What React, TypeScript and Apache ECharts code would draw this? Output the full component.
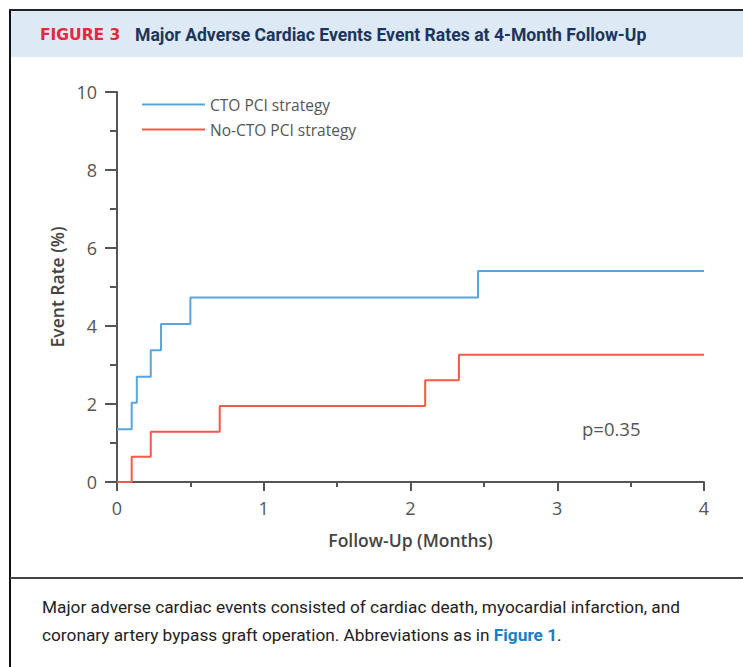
import React, { useEffect, useRef } from "react";
import * as echarts from "echarts";

const ctoTimes = [0, 0.1, 0.135, 0.23, 0.3, 0.5, 2.46, 4];
const ctoRates = [1.35, 2.03, 2.7, 3.38, 4.05, 4.73, 5.41, 5.41];
const noCtoTimes = [0, 0.1, 0.23, 0.7, 2.1, 2.33, 4];
const noCtoRates = [0, 0.65, 1.29, 1.95, 2.61, 3.26, 3.26];
const seriesNames = ["CTO PCI strategy", "No-CTO PCI strategy"];
const pValueText = "p=0.35";
const titleLabel = "FIGURE 3";
const titleText = "Major Adverse Cardiac Events Event Rates at 4-Month Follow-Up";
const captionLine1 = "Major adverse cardiac events consisted of cardiac death, myocardial infarction, and";
const captionLine2 = "coronary artery bypass graft operation. Abbreviations as in ";
const captionLink = "Figure 1";

const BLUE = "#5aa5dc";
const RED = "#f05c48";
const AXIS = "#555555";
const CHART_FONT = "'Open Sans', 'Noto Sans', sans-serif";
const TITLE_FONT = "'Roboto', sans-serif";

export default function App() {
  const ref = useRef<HTMLDivElement>(null);
  useEffect(() => {
    if (!ref.current) return;
    const chart = echarts.init(ref.current, undefined, { renderer: "svg" });
    const pair = (xs: number[], ys: number[]) => xs.map((x, i) => [x, ys[i]]);
    chart.setOption({
      animation: false,
      backgroundColor: "#ffffff",
      textStyle: { fontFamily: CHART_FONT },
      grid: { left: 117, right: 39, top: 92, bottom: 185, containLabel: false },
      legend: {
        orient: "vertical",
        left: 137,
        top: 91,
        itemWidth: 63,
        itemHeight: 2,
        itemGap: 8,
        icon: "rect",
        data: seriesNames,
        textStyle: { fontFamily: CHART_FONT, fontSize: 15.5, color: "#555", lineHeight: 17 },
      },
      xAxis: {
        type: "value",
        min: 0,
        max: 4,
        interval: 1,
        name: "Follow-Up (Months)",
        nameLocation: "middle",
        nameGap: 49,
        nameTextStyle: { fontFamily: CHART_FONT, fontSize: 17.5, fontWeight: 600, color: "#444" },
        axisLine: { lineStyle: { color: AXIS, width: 2 } },
        axisTick: { length: 9, lineStyle: { color: AXIS, width: 2 } },
        minorTick: { show: true, splitNumber: 2, length: 5, lineStyle: { color: AXIS, width: 2 } },
        splitLine: { show: false },
        axisLabel: { margin: 17, fontSize: 18, color: "#555", fontFamily: CHART_FONT },
      },
      yAxis: {
        type: "value",
        min: 0,
        max: 10,
        interval: 2,
        name: "Event Rate (%)",
        nameLocation: "middle",
        nameGap: 48,
        nameTextStyle: { fontFamily: CHART_FONT, fontSize: 17.5, fontWeight: 600, color: "#444" },
        axisLine: { show: true, lineStyle: { color: AXIS, width: 2 } },
        axisTick: { show: true, length: 12, lineStyle: { color: AXIS, width: 2 } },
        minorTick: { show: true, splitNumber: 2, length: 7, lineStyle: { color: AXIS, width: 2 } },
        splitLine: { show: false },
        axisLabel: { margin: 20, fontSize: 18, color: "#555", fontFamily: CHART_FONT },
      },
      series: [
        {
          name: seriesNames[0],
          type: "line",
          step: "end",
          data: pair(ctoTimes, ctoRates),
          showSymbol: false,
          symbol: "none",
          color: BLUE,
          lineStyle: { color: BLUE, width: 2 },
        },
        {
          name: seriesNames[1],
          type: "line",
          step: "end",
          data: pair(noCtoTimes, noCtoRates),
          showSymbol: false,
          symbol: "none",
          color: RED,
          lineStyle: { color: RED, width: 2 },
        },
      ],
      graphic: [
        { type: "rect", shape: { x: 10, y: 11, width: 733, height: 46 }, style: { fill: "#dde9f5" }, silent: true },
        { type: "line", shape: { x1: 10, y1: 9, x2: 10, y2: 667 }, style: { stroke: "#111", lineWidth: 2 } },
        { type: "line", shape: { x1: 9, y1: 10, x2: 743, y2: 10 }, style: { stroke: "#222", lineWidth: 2 } },
        { type: "line", shape: { x1: 10, y1: 578, x2: 743, y2: 578 }, style: { stroke: "#444", lineWidth: 2 } },
        {
          type: "text",
          x: 40,
          y: 35,
          style: { text: titleLabel, fill: "#e2283a", font: `bold 15.5px 'DejaVu Sans', sans-serif`, verticalAlign: "middle" },
        },
        {
          type: "text",
          x: 135,
          y: 35,
          style: { text: titleText, fill: "#1b355e", font: `bold 17.6px ${TITLE_FONT}`, verticalAlign: "middle" },
        },
        {
          type: "text",
          x: 582,
          y: 428,
          style: { text: pValueText, fill: "#555", font: `18.5px ${CHART_FONT}`, verticalAlign: "middle" },
        },
        {
          type: "text",
          x: 42,
          y: 607,
          style: { text: captionLine1, fill: "#222", font: `17.25px ${TITLE_FONT}`, verticalAlign: "middle" },
        },
        {
          type: "text",
          x: 42,
          y: 635,
          style: {
            text: `{a|${captionLine2}}{b|${captionLink}}{a|.}`,
            verticalAlign: "middle",
            rich: {
              a: { fill: "#222", fontSize: 17.25, fontFamily: TITLE_FONT },
              b: { fill: "#1a7fc1", fontSize: 17.25, fontFamily: TITLE_FONT, fontWeight: "bold" },
            },
          },
        },
      ],
    });
    return () => chart.dispose();
  }, []);
  return (
    <div
      ref={ref}
      style={{ position: "absolute", left: 0, top: 0, width: 743, height: 667, background: "#fff" }}
    />
  );
}
